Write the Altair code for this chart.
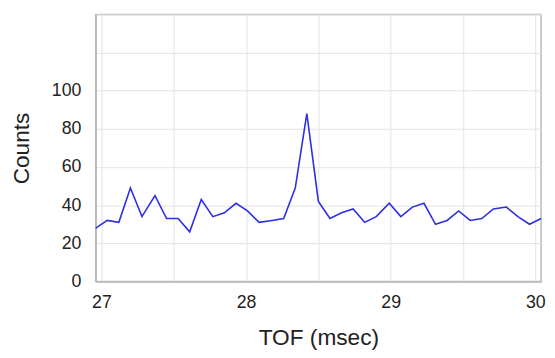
import altair as alt
import pandas as pd

tof = [26.96, 27.04, 27.12, 27.20, 27.28, 27.37, 27.45, 27.53, 27.61, 27.69,
       27.77, 27.85, 27.93, 28.01, 28.09, 28.18, 28.26, 28.34, 28.42, 28.50,
       28.58, 28.66, 28.74, 28.82, 28.90, 28.99, 29.07, 29.15, 29.23, 29.31,
       29.39, 29.47, 29.55, 29.63, 29.71, 29.80, 29.88, 29.96, 30.04]
counts = [28, 32, 31, 49, 34, 45, 33, 33, 26, 43,
          34, 36, 41, 37, 31, 32, 33, 49, 88, 42,
          33, 36, 38, 31, 34, 41, 34, 39, 41, 30,
          32, 37, 32, 33, 38, 39, 34, 30, 33]

x_grid = [27, 27.5, 28, 28.5, 29, 29.5, 30]
y_grid = [0, 20, 40, 60, 80, 100, 120, 140]

df = pd.DataFrame({"tof": tof, "counts": counts})

FONT = "Liberation Sans"

chart = alt.Chart(df).mark_line(color="#2e2ee6", strokeWidth=1.6).encode(
    x=alt.X("tof:Q",
            scale=alt.Scale(domain=[26.96, 30.04], nice=False, zero=False),
            axis=alt.Axis(values=x_grid, title="TOF (msec)",
                          labelExpr="datum.value % 1 == 0 ? format(datum.value, 'd') : ''",
                          labelFlush=False, labelPadding=12, ticks=False,
                          titlePadding=16)),
    y=alt.Y("counts:Q",
            scale=alt.Scale(domain=[0, 140], nice=False),
            axis=alt.Axis(values=y_grid, title="Counts",
                          labelExpr="datum.value <= 100 ? datum.label : ''",
                          labelPadding=15, ticks=False, titlePadding=18)),
).properties(
    width=452, height=271,
    autosize=alt.AutoSizeParams(type="none"),
    padding={"left": 89, "top": 4, "right": 6, "bottom": 67},
).configure_view(
    stroke="#b8b8b8", strokeWidth=1.5
).configure_axis(
    labelFont=FONT, titleFont=FONT, labelFontSize=18, titleFontSize=23,
    labelColor="#222", titleColor="#222", titleFontWeight="normal",
    gridColor="#e4e4e4", gridWidth=1, domainColor="#b8b8b8", domainWidth=1.5,
)

chart.save("out.html", embed_options={"renderer": "svg", "actions": False})
